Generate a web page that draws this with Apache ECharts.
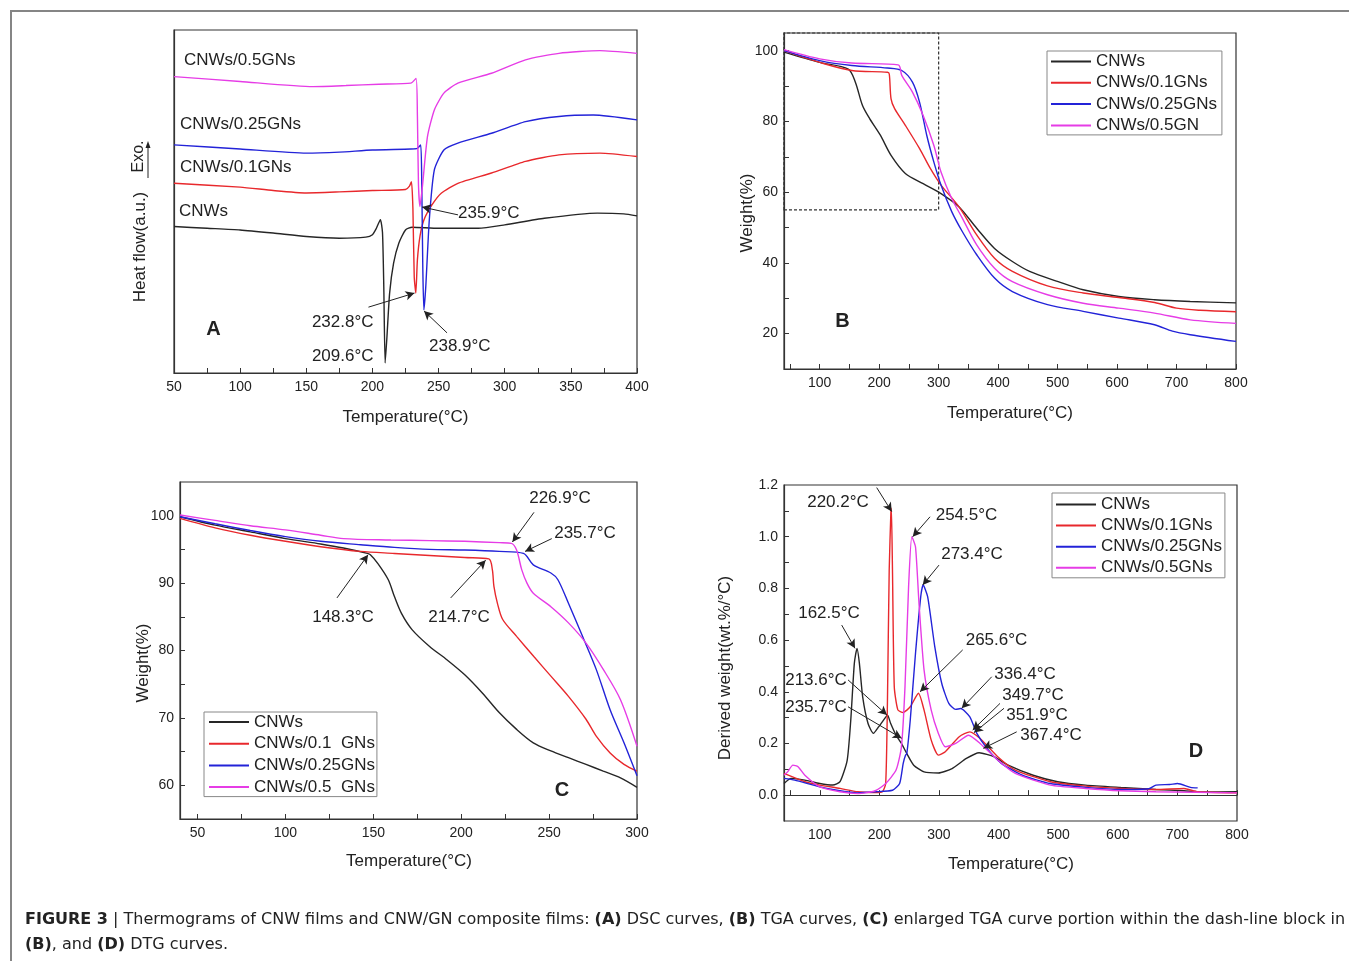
<!DOCTYPE html>
<html>
<head>
<meta charset="utf-8">
<script src="https://cdn.jsdelivr.net/npm/echarts@6/dist/echarts.min.js"></script>
<style>
  html, body { margin: 0; padding: 0; background: #fff; }
  #chart { width: 1349px; height: 961px; }
</style>
</head>
<body>
<div id="chart"></div>
<script>
// ---- data ----
// A: DSC (temperature °C, heat flow a.u.)
const dscCNWs = [[50,42.7],[75,42.2],[100,41.7],[125,40.8],[150,39.8],[175,39.3],[195,39.6],[200,40.3],[203,42.2],[206,44.7],[207.6,41],[208.6,25],[209.6,2.9],[211,10.7],[213,23.3],[216,32],[220,37.9],[225,41.7],[230,42.5],[250,42.2],[280,42.2],[300,43.2],[330,45.1],[370,46.6],[390,46.4],[400,45.8]];
const dsc01 = [[50,55.3],[100,54.2],[125,53.2],[150,52.5],[175,52.8],[200,53.2],[225,53.5],[228,54.5],[229.5,55.8],[230.6,48],[231.6,28],[232.8,23.3],[234,33],[236,40],[239,44.7],[245,49],[252,52.4],[264.6,55.3],[290,58.3],[315.7,61.7],[341,63.6],[372,64.1],[400,63.1]];
const dsc025 = [[50,66.5],[100,65.3],[150,64.1],[175,64.4],[200,65],[229,65.3],[234,65.5],[236.5,66.5],[237.3,55],[238.1,30],[238.9,18.4],[240.3,25],[243,44.7],[246.8,59.2],[254,65],[264.6,67],[290,69.9],[315.7,73.3],[341,74.8],[367,75.2],[400,73.8]];
const dsc05 = [[50,86.4],[100,85],[155,83.5],[180,83.8],[205,84.2],[229,84.5],[233,85.9],[234,75],[234.8,55],[235.9,48.5],[237.8,54.4],[241.6,68.9],[246.8,76.7],[254,81.6],[264.6,84.5],[290,87.4],[315.7,91.3],[341,93.2],[372,94],[400,93.2]];

// B: TGA (temperature °C, weight %)
const tgaCNWs = [[40,99.6],[100,96.7],[148,94.8],[160,91.1],[172,84.5],[184,80.8],[202,76.1],[220,70.4],[244,65.3],[274,62.4],[304,59.6],[334,55.9],[364,49.8],[394,44.1],[424,40.4],[453,37.6],[501,34.7],[543,32.4],[603,30.5],[663,29.6],[723,29.1],[800,28.7]];
const tga01 = [[40,100],[100,96.7],[154,94.4],[214,93.9],[217,93.4],[220,86.4],[226,83.6],[244,78.9],[268,72.3],[286,66.7],[304,62],[334,55.9],[364,47.9],[394,41.3],[424,37.6],[483,33.5],[543,31.5],[603,30.2],[663,28.8],[700,27.2],[740,26.6],[800,26.2]];
const tga025 = [[40,100],[100,97.2],[154,95.8],[214,95.1],[238,94.4],[256,91.1],[268,85.4],[280,76.1],[292,68.5],[304,62],[322,54.5],[340,48.8],[364,42.3],[394,35.7],[424,31.9],[483,28.2],[543,26.3],[603,24.4],[663,22.5],[693,20.7],[723,19.7],[800,17.8]];
const tga05 = [[40,100.3],[100,97.7],[154,96.5],[232,96],[238,93],[256,88.3],[274,81.7],[292,73.2],[304,65.7],[322,58.2],[340,52.6],[364,45.1],[394,38.5],[424,34.7],[483,31],[543,28.6],[603,27.2],[663,25.8],[723,23.9],[800,22.9]];

// C: enlarged TGA, 40-300 °C
const cCNWs = [[40,99.85],[60,98.6],[80,97.6],[100,96.6],[120,95.8],[133,95.2],[146.6,94.4],[148.3,94.2],[152.6,92.9],[158.5,90.5],[162,88],[166,85.5],[172,83.1],[182,80.6],[192,78.6],[202,76.4],[212,73.7],[221.6,70.8],[231.5,68.3],[241,66.3],[251,65.1],[261,64.1],[271,63.1],[280.8,62.1],[290.6,61.1],[300,59.7]];
const c01 = [[40,99.6],[60,98.2],[80,97.1],[100,96.2],[120,95.4],[142.7,94.7],[162,94.4],[182,94.1],[202,93.8],[215.7,93.6],[217.7,92],[218.6,89.5],[220.6,87],[223.6,84.6],[231.5,82.1],[241.3,79.1],[251,76.2],[261,73.2],[271,69.8],[276.8,67.3],[284.7,64.8],[292.6,63.1],[300,62.1]];
const c025 = [[40,99.85],[60,98.8],[80,97.8],[100,96.9],[120,96.2],[142.7,95.7],[162,95.3],[182,95],[202,94.9],[221.6,94.7],[235.4,94.4],[241,92.7],[251,91.5],[255,90.5],[261,87],[269,82.1],[276.8,77.2],[284.7,71.2],[292.6,66.3],[300,61.4]];
const c05 = [[40,100.1],[60,99.3],[80,98.5],[100,97.9],[120,97.1],[133,96.6],[160,96.4],[182,96.3],[202,96.2],[221.6,96],[228.5,95.9],[231.5,94.9],[234.4,92],[237.4,90],[241,88.5],[251,86.5],[261,84.1],[271,81.1],[280.8,77.2],[290.6,72.7],[300,65.8]];

// D: DTG (temperature °C, wt.%/°C)
const dCNWs = [[40,0.045],[52,0.065],[75,0.058],[100,0.045],[122,0.039],[134,0.052],[146,0.135],[152,0.29],[158,0.51],[162.5,0.568],[166.5,0.51],[172,0.38],[181,0.277],[190,0.239],[199,0.265],[210,0.3],[213.6,0.31],[219,0.277],[228,0.232],[237,0.2],[246,0.161],[257.6,0.116],[275,0.09],[299,0.086],[322,0.103],[346,0.142],[367.4,0.164],[393,0.148],[416,0.116],[458,0.077],[499,0.052],[546,0.039],[605,0.03],[664,0.022],[711,0.017],[740,0.012],[800,0.013]];
const d01 = [[40,0.084],[75,0.052],[100,0.039],[134,0.026],[163.5,0.013],[193,0.01],[205,0.013],[210.6,0.045],[213.5,0.355],[216.5,0.87],[219.4,1.1],[220.2,1.11],[222,0.87],[225,0.42],[231,0.33],[240,0.32],[251.8,0.342],[265.6,0.394],[275,0.329],[287,0.213],[299,0.155],[310.6,0.168],[334,0.226],[351.9,0.245],[369,0.219],[399,0.148],[428,0.097],[487,0.052],[546,0.035],[605,0.026],[664,0.022],[711,0.026],[734,0.013],[800,0.009]];
const d025 = [[40,0.065],[58,0.058],[100,0.032],[134,0.017],[163.5,0.009],[193,0.013],[222,0.019],[234,0.045],[240,0.123],[244,0.155],[246,0.16],[251.8,0.29],[260.6,0.548],[269.4,0.768],[273.4,0.813],[281,0.768],[293,0.574],[304.7,0.432],[316.5,0.355],[328,0.332],[336.4,0.335],[351.8,0.303],[363.5,0.239],[381,0.18],[404.7,0.123],[440,0.077],[487,0.045],[546,0.03],[605,0.022],[652,0.025],[664,0.039],[687,0.041],[700,0.045],[722,0.03],[734,0.028]];
const d05 = [[40,0.077],[46,0.09],[55,0.116],[63.5,0.11],[75,0.077],[100,0.032],[134,0.013],[163.5,0.006],[193,0.017],[210.6,0.045],[228,0.097],[237,0.187],[243,0.42],[249,0.806],[254.5,1.0],[260.6,0.961],[266.5,0.742],[275,0.484],[287,0.329],[299,0.239],[310.6,0.187],[328,0.2],[349.7,0.232],[369,0.2],[399,0.135],[428,0.084],[487,0.039],[546,0.026],[605,0.017],[664,0.013],[800,0.009]];

// tick labels / tick positions
const aXLabels = [50,100,150,200,250,300,350,400];
const aXTicks = [50,75,100,125,150,175,200,225,250,275,300,325,350,375,400];
const wideXLabels = [100,200,300,400,500,600,700,800];
const wideXTicks = [50,100,150,200,250,300,350,400,450,500,550,600,650,700,750,800];
const bYLabels = [20,40,60,80,100];
const bYTicks = [20,30,40,50,60,70,80,90,100];
const cXLabels = [50,100,150,200,250,300];
const cXTicks = [50,75,100,125,150,175,200,225,250,275,300];
const cYLabels = [60,70,80,90,100];
const cYTicks = [60,65,70,75,80,85,90,95,100];
const dYLabels = [0,0.2,0.4,0.6,0.8,1.0,1.2];
const dYTicks = [0,0.1,0.2,0.3,0.4,0.5,0.6,0.7,0.8,0.9,1.0,1.1];

// arrow annotations: [tail, head] in data units
const aArrows = [[[197,19.2],[231.8,23.3]],[[256.4,11.7],[239,18.1]],[[264.7,46.1],[237.5,48.4]]];
const cArrows = [[[241.4,100.5],[229.1,96.1]],[[251.5,96.6],[236.3,94.7]],[[129.3,87.8],[147,94.2]],[[194,87.8],[213.9,93.4]]];
const dArrows = [[[195.5,1.19],[220.7,1.097]],[[285,1.077],[255.9,1.0]],[[300,0.89],[272.7,0.813]],[[136.8,0.658],[159.1,0.568]],
  [[147.4,0.446],[212.8,0.31]],[[147.4,0.342],[237.5,0.22]],[[339.8,0.562],[268.2,0.4]],[[388.5,0.458],[338.1,0.336]],
  [[402.4,0.355],[356.6,0.252]],[[409.1,0.336],[358.8,0.242]],[[430.4,0.245],[374.4,0.181]]];

const FONT = '"Liberation Sans", Arial, sans-serif';
const INK = '#222';
const C_BLACK = '#262626', C_RED = '#e8282c', C_BLUE = '#2323d8', C_MAG = '#e63ce6';

const grids = [
  { left: 174, top: 30, width: 463, height: 343 },
  { left: 784, top: 33, width: 452, height: 336 },
  { left: 180, top: 482, width: 457, height: 337 },
  { left: 784, top: 485, width: 453, height: 336 },
].map(g => Object.assign(g, { show: true, borderColor: '#333', borderWidth: 1.2 }));

function xAx(idx, min, max, labels, ticks) {
  return {
    type: 'value', gridIndex: idx, min, max,
    axisLine: { lineStyle: { color: '#333', width: 1.2 } },
    axisTick: { inside: true, length: 5, customValues: ticks, lineStyle: { color: '#333' } },
    axisLabel: { customValues: labels, margin: 7, fontSize: 14, color: INK, fontFamily: FONT },
    splitLine: { show: false },
  };
}
function yAx(idx, min, max, labels, ticks, fmt) {
  const ax = {
    type: 'value', gridIndex: idx, min, max,
    axisLine: { show: true, lineStyle: { color: '#333', width: 1.2 } },
    splitLine: { show: false },
  };
  if (labels) {
    ax.axisTick = { show: true, inside: true, length: 5, customValues: ticks, lineStyle: { color: '#333' } };
    ax.axisLabel = { customValues: labels, margin: 6, fontSize: 14, color: INK, fontFamily: FONT, formatter: fmt };
  } else {
    ax.axisTick = { show: false };
    ax.axisLabel = { show: false };
  }
  return ax;
}

function line(name, data, color, idx, smooth) {
  return {
    type: 'line', name, data, color, xAxisIndex: idx, yAxisIndex: idx,
    showSymbol: false, smooth: smooth, lineStyle: { width: 1.4, color },
    emphasis: { disabled: true }, z: 3,
  };
}
function arrows(list) {
  return {
    silent: true, animation: false, symbol: ['none', 'arrow'], symbolSize: [7, 9],
    label: { show: false }, lineStyle: { color: INK, width: 1, type: 'solid' },
    data: list.map(p => [{ coord: p[0] }, { coord: p[1] }]),
  };
}

const series = [
  line('A CNWs', dscCNWs, C_BLACK, 0, 0.2),
  line('A 0.1', dsc01, C_RED, 0, 0.2),
  line('A 0.25', dsc025, C_BLUE, 0, 0.2),
  line('A 0.5', dsc05, C_MAG, 0, 0.2),
  line('CNWs', tgaCNWs, C_BLACK, 1, 0.3),
  line('CNWs/0.1GNs', tga01, C_RED, 1, 0.3),
  line('CNWs/0.25GNs', tga025, C_BLUE, 1, 0.3),
  line('CNWs/0.5GN', tga05, C_MAG, 1, 0.3),
  line('CNWs', cCNWs, C_BLACK, 2, 0.3),
  line('CNWs/0.1  GNs', c01, C_RED, 2, 0.3),
  line('CNWs/0.25GNs', c025, C_BLUE, 2, 0.3),
  line('CNWs/0.5  GNs', c05, C_MAG, 2, 0.3),
  line('CNWs', dCNWs, C_BLACK, 3, 0.2),
  line('CNWs/0.1GNs', d01, C_RED, 3, 0.2),
  line('CNWs/0.25GNs', d025, C_BLUE, 3, 0.2),
  line('CNWs/0.5GNs', d05, C_MAG, 3, 0.2),
];
series[0].markLine = arrows(aArrows);
series[8].markLine = arrows(cArrows);
series[12].markLine = arrows(dArrows);
series[4].markArea = {
  silent: true,
  itemStyle: { color: 'rgba(0,0,0,0)', borderColor: '#333', borderWidth: 1.2, borderType: [3, 2] },
  data: [[{ coord: [40, 55] }, { coord: [300, 105] }]],
};

function legend(left, top, padding, gap, names) {
  return {
    orient: 'vertical', left, top, padding, itemGap: gap,
    icon: 'rect', itemWidth: 40, itemHeight: 2, selectedMode: false,
    borderColor: '#888', borderWidth: 1,
    textStyle: { fontSize: 17, lineHeight: 17, fontFamily: FONT, color: INK },
    data: names,
  };
}

function txt(x, y, text, o = {}) {
  return {
    type: 'text', x, y, rotation: o.rot || 0, silent: true,
    style: {
      text, fontSize: o.size || 17, fontFamily: o.family || FONT, fontWeight: o.weight || 'normal',
      fill: INK, align: o.align || 'center', verticalAlign: 'middle', rich: o.rich,
    },
  };
}
const V = Math.PI / 2;
const bold = { fontWeight: 'bold', fontSize: 16, fontFamily: 'DejaVu Sans', fill: '#222' };

const graphic = [
  { type: 'rect', silent: true, shape: { x: 11, y: 11, width: 1400, height: 1000 }, style: { fill: 'none', stroke: '#858585', lineWidth: 2 } },
  // panel A texts
  txt(184, 60.5, 'CNWs/0.5GNs', { align: 'left' }),
  txt(180, 124.5, 'CNWs/0.25GNs', { align: 'left' }),
  txt(180, 167.5, 'CNWs/0.1GNs', { align: 'left' }),
  txt(179, 211.5, 'CNWs', { align: 'left' }),
  txt(373.5, 322.5, '232.8°C', { align: 'right' }),
  txt(373.5, 356.5, '209.6°C', { align: 'right' }),
  txt(429, 346.5, '238.9°C', { align: 'left' }),
  txt(458, 213.5, '235.9°C', { align: 'left' }),
  txt(213.5, 329.5, 'A', { size: 20, weight: 'bold' }),
  txt(405.5, 417.5, 'Temperature(°C)'),
  txt(140, 247, 'Heat flow(a.u.)', { rot: V }),
  txt(139, 156.5, 'Exo.', { rot: V, size: 16 }),
  { type: 'line', silent: true, shape: { x1: 148, y1: 178, x2: 148, y2: 146 }, style: { stroke: INK, lineWidth: 1 } },
  { type: 'polygon', silent: true, shape: { points: [[148, 141], [145.5, 148], [150.5, 148]] }, style: { fill: INK } },
  // panel B texts
  txt(842.5, 321, 'B', { size: 20, weight: 'bold' }),
  txt(1010, 413, 'Temperature(°C)'),
  txt(747, 213, 'Weight(%)', { rot: V }),
  // panel C texts
  txt(560, 498.5, '226.9°C'),
  txt(585, 533.5, '235.7°C'),
  txt(343, 617.5, '148.3°C'),
  txt(459, 617.5, '214.7°C'),
  txt(562, 790.5, 'C', { size: 20, weight: 'bold' }),
  txt(409, 861, 'Temperature(°C)'),
  txt(143, 663, 'Weight(%)', { rot: V }),
  // panel D texts
  txt(838, 502.5, '220.2°C'),
  txt(966.5, 515.5, '254.5°C'),
  txt(972, 554, '273.4°C'),
  txt(829, 613.5, '162.5°C'),
  txt(816, 680.5, '213.6°C'),
  txt(816, 707.5, '235.7°C'),
  txt(996.5, 640.5, '265.6°C'),
  txt(1025, 674, '336.4°C'),
  txt(1033, 695, '349.7°C'),
  txt(1037, 715, '351.9°C'),
  txt(1051, 735.5, '367.4°C'),
  txt(1196, 751.5, 'D', { size: 20, weight: 'bold' }),
  txt(1011, 864, 'Temperature(°C)'),
  txt(725, 668, 'Derived weight(wt.%/°C)', { rot: V }),
  // caption
  txt(25, 920, '{b|FIGURE 3} | Thermograms of CNW films and CNW/GN composite films: {b|(A)} DSC curves, {b|(B)} TGA curves, {b|(C)} enlarged TGA curve portion within the dash-line block in',
    { align: 'left', family: 'DejaVu Sans', size: 16, rich: { b: bold } }),
  txt(25, 945, '{b|(B)}, and {b|(D)} DTG curves.', { align: 'left', family: 'DejaVu Sans', size: 16, rich: { b: bold } }),
];

const option = {
  animation: false,
  backgroundColor: '#fff',
  textStyle: { fontFamily: FONT },
  grid: grids,
  xAxis: [
    xAx(0, 50, 400, aXLabels, aXTicks),
    xAx(1, 40, 800, wideXLabels, wideXTicks),
    xAx(2, 40, 300, cXLabels, cXTicks),
    xAx(3, 40, 800, wideXLabels, wideXTicks),
  ],
  yAxis: [
    yAx(0, 0, 100),
    yAx(1, 10, 105, bYLabels, bYTicks),
    yAx(2, 55, 105, cYLabels, cYTicks),
    yAx(3, -0.1, 1.2, dYLabels, dYTicks, v => v.toFixed(1)),
  ],
  legend: [
    legend(1047, 51, [2, 5, 1, 4], 4.3, ['CNWs', 'CNWs/0.1GNs', 'CNWs/0.25GNs', 'CNWs/0.5GN']),
    legend(204, 712, [1.5, 2, 1, 5], 4.7, ['CNWs', 'CNWs/0.1  GNs', 'CNWs/0.25GNs', 'CNWs/0.5  GNs']),
    legend(1052, 493, [3, 3, 1.5, 4], 4.1, ['CNWs', 'CNWs/0.1GNs', 'CNWs/0.25GNs', 'CNWs/0.5GNs']),
  ],
  series,
  graphic,
};

const chart = echarts.init(document.getElementById('chart'), null, { renderer: 'canvas' });
chart.setOption(option);
</script>
</body>
</html>
